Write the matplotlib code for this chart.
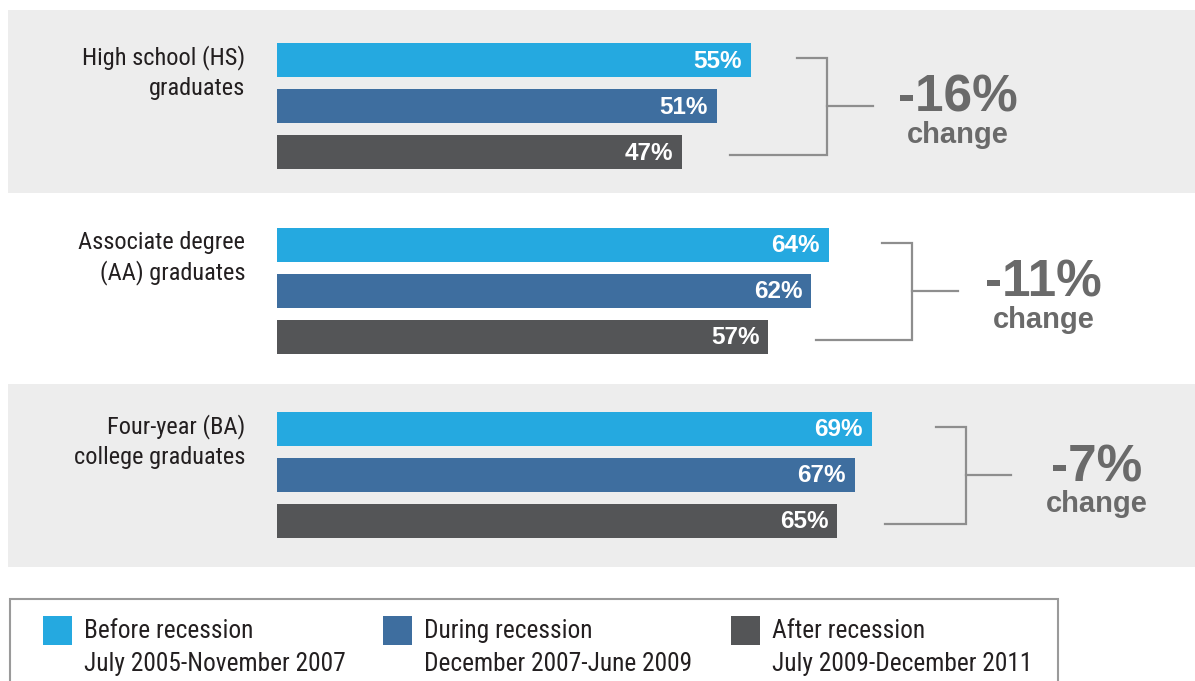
import matplotlib.pyplot as plt
from matplotlib import font_manager
from matplotlib.patches import Rectangle


# data
GROUPS = ["High school (HS)\ngraduates", "Associate degree\n(AA) graduates", "Four-year (BA)\ncollege graduates"]
BEFORE = [55, 64, 69]
DURING = [51, 62, 67]
AFTER = [47, 57, 65]
CHANGE = ["-16%", "-11%", "-7%"]
PERIODS = ["Before recession", "During recession", "After recession"]
PERIOD_DATES = ["July 2005-November 2007", "December 2007-June 2009", "July 2009-December 2011"]

COLORS = ["#25A9E0", "#3E6E9F", "#545557"]
BAND_COLOR = "#EDEDED"
TEXT_DARK = "#231F20"
TEXT_GRAY = "#6A6A6A"
LINE_GRAY = "#8E8E8E"

W, H = 1195, 681
X0 = 277.0      # pixel where 0% sits
PX = 8.62       # pixels per percent
BRACKET_X = [63.8, 73.7, 79.9]  # percent units, per group


def px(x):
    return (x - X0) / PX


installed = {f.name for f in font_manager.fontManager.ttflist}
NARROW = "Roboto Condensed" if "Roboto Condensed" in installed else "Liberation Sans"
BOLD = "Liberation Sans"

fig = plt.figure(figsize=(W / 100, H / 100), dpi=100)
ax = fig.add_axes([0, 0, 1, 1])
ax.set_xlim(px(0), px(W))
ax.set_ylim(H, 0)
ax.axis("off")

bar_h = 34
bar_step = 46
group_step = 184.5
first_center = 106

for g, label in enumerate(GROUPS):
    center = first_center + g * group_step
    vals = [BEFORE[g], DURING[g], AFTER[g]]

    if g % 2 == 0:
        ax.add_patch(Rectangle((px(8), center - 96 + (g // 2) * 5), px(W) - px(8), 183,
                               facecolor=BAND_COLOR, edgecolor="none", zorder=0))

    ys = [center + (i - 1) * bar_step for i in range(3)]
    ax.barh(ys, vals, height=bar_h, left=0, color=COLORS, zorder=2)
    for y, v in zip(ys, vals):
        ax.text(v - 1.05, y + 1, f"{v}%", ha="right", va="center", color="white",
                fontsize=17.5, fontweight="bold", family=BOLD, zorder=3)

    bar_top = ys[0] - bar_h / 2
    for k, line in enumerate(label.split("\n")):
        ax.text(px(245), bar_top + 21 + k * 31, line, ha="right", va="baseline",
                color=TEXT_DARK, fontsize=17.6, family=NARROW)

    # bracket
    bx = BRACKET_X[g]
    top_y = ys[0] - 2
    bot_y = ys[2] + 3
    ax.plot([bx - 3.5, bx, bx, vals[2] + 5.5], [top_y, top_y, bot_y, bot_y],
            color=LINE_GRAY, lw=1.6, solid_joinstyle="miter", zorder=2)
    ax.plot([bx, bx + 5.3], [center, center], color=LINE_GRAY, lw=1.6, zorder=2)

    ax.text(bx + 15.2, center + 6, CHANGE[g], ha="center", va="baseline", color=TEXT_GRAY,
            fontsize=37, fontweight="bold", family=BOLD)
    ax.text(bx + 15.2, center + 37, "change", ha="center", va="baseline", color=TEXT_GRAY,
            fontsize=21, fontweight="bold", family=BOLD)

# legend box
ax.add_patch(Rectangle((px(10), 599), px(1058) - px(10), 120, facecolor="white",
                       edgecolor="#9A9A9A", lw=1.5, zorder=1, clip_on=False))
legend_x = [43, 383, 731]
for i, (name, dates) in enumerate(zip(PERIODS, PERIOD_DATES)):
    lx = legend_x[i]
    ax.add_patch(Rectangle((px(lx), 616), 29 / PX, 29, facecolor=COLORS[i],
                           edgecolor="none", zorder=2))
    ax.text(px(lx + 41), 638, name, ha="left", va="baseline", color=TEXT_DARK,
            fontsize=18.3, family=NARROW)
    ax.text(px(lx + 41), 671, dates, ha="left", va="baseline", color=TEXT_DARK,
            fontsize=18.3, family=NARROW)

fig.savefig("out.png", dpi=100)
